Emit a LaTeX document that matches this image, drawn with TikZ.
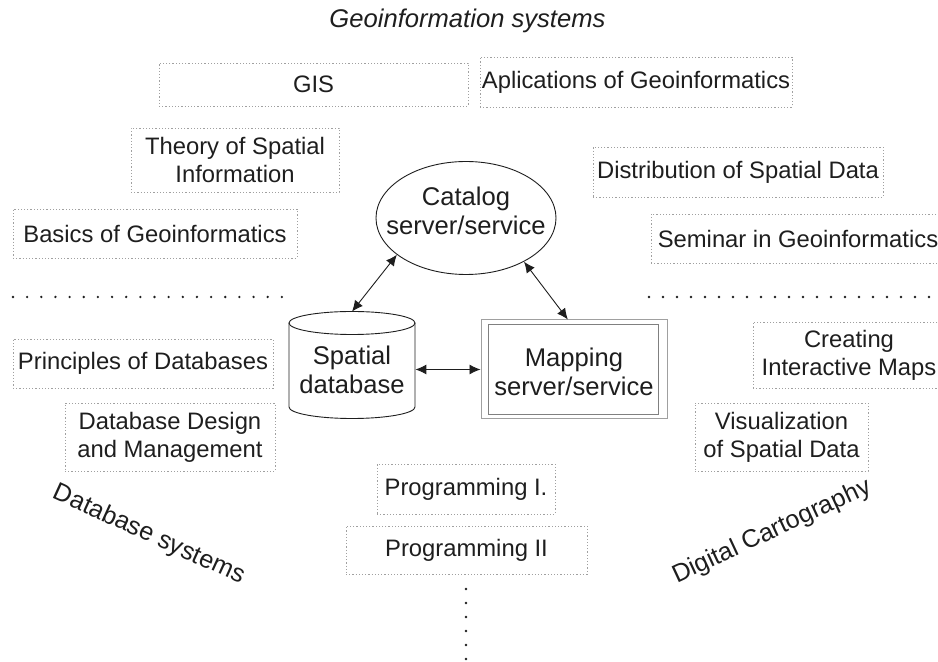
\documentclass[tikz,border=0pt]{standalone}
\usepackage{fontspec}
\setmainfont{Liberation Sans}
\usetikzlibrary{shapes.geometric,arrows.meta}
\definecolor{boxline}{RGB}{160,160,160}
\definecolor{ink}{RGB}{30,30,30}

\tikzset{
  course/.style={draw=boxline, dash pattern=on 0.6pt off 1pt, line width=0.45pt,
    align=center, inner sep=0pt, text=ink, font=\fontsize{11.9}{14}\selectfont},
  core/.style={align=center, inner sep=0pt, text=ink, font=\fontsize{12.8}{14.3}\selectfont},
  area/.style={text=ink, font=\fontsize{12.6}{15}\selectfont},
  link/.style={ink, line width=0.45pt, {Latex[length=5.5pt,width=5pt]}-{Latex[length=5.5pt,width=5pt]}},
}

\begin{document}
\begin{tikzpicture}[x=0.5pt,y=-0.5pt]
  \useasboundingbox (0,0) rectangle (938,662);
  \node[area, font=\itshape\fontsize{12.8}{15}\selectfont] (title) at (467.5,21) {Geoinformation systems};
  % courses, upper half
  \node[course, minimum width=154.5pt, minimum height=21.5pt] (gis) at (313.5,84.5) {GIS};
  \node[course, minimum width=156pt, minimum height=25pt] (apl) at (636,82) {Aplications of Geoinformatics};
  \node[course, minimum width=104pt, minimum height=32pt] (theory) at (235,160) {Theory of Spatial\\Information};
  \node[course, minimum width=142pt, minimum height=24.5pt] (basics) at (155,233.5) {Basics of Geoinformatics};
  \node[course, minimum width=145pt, minimum height=25pt] (distr) at (738,172) {Distribution of Spatial Data};
  \node[course, minimum width=147pt, minimum height=24.5pt] (seminar) at (798,238.5) {Seminar in Geoinformatics};
  % courses, lower half
  \node[course, minimum width=130pt, minimum height=24.5pt] (princ) at (143,363.5) {Principles of Databases};
  \node[course, minimum width=105pt, minimum height=34pt] (dbdesign) at (170,437) {Database Design\\and Management};
  \node[course, minimum width=96pt, minimum height=33pt] (creating) at (849,355) {Creating\\Interactive Maps};
  \node[course, minimum width=86.5pt, minimum height=34pt] (visual) at (781.5,437) {Visualization\\of Spatial Data};
  \node[course, minimum width=89pt, minimum height=25pt] (prog1) at (466,489) {Programming I.};
  \node[course, minimum width=120.5pt, minimum height=24pt] (prog2) at (466.5,550) {Programming II};
  % separators
  \foreach \i in {0,...,19} \fill[ink] (13+\i*14.15,297) circle (1.3);
  \foreach \i in {0,...,20} \fill[ink] (649+\i*14,297) circle (1.3);
  \foreach \j in {0,...,5} \fill[ink] (466,589+\j*14) circle (1.3);
  % catalog
  \node[ellipse, draw=ink, line width=0.45pt, inner sep=0pt, minimum width=90pt, minimum height=56.5pt] (catalog) at (466,218) {};
  \node[core] (catalogtext) at (466,211) {Catalog\\server/service};
  % spatial database
  \node[inner sep=0pt, minimum width=63pt, minimum height=53pt] (db) at (352,365) {};
  \draw[ink, line width=0.45pt] (289,323) -- (289,407) arc[start angle=180, end angle=0, x radius=63, y radius=11.5] -- (415,323);
  \draw[ink, line width=0.45pt] (352,323) ellipse [x radius=63, y radius=11.5];
  \node[core] (dbtext) at (352,370) {Spatial\\database};
  % mapping
  \node[draw=boxline, line width=0.5pt, inner sep=0pt, minimum width=93pt, minimum height=49.5pt] (map) at (574,369.5) {};
  \draw[boxline!80!black, line width=0.5pt] ([shift={(8,5)}]map.north west) rectangle ([shift={(-9,-5)}]map.south east);
  \node[core] (maptext) at (574,372) {Mapping\\server/service};
  % links
  \draw[link] (catalog.208.5) -- (db.north);
  \draw[link] (catalog.323) -- (map.97);
  \draw[link] (db.east |- map.west) -- (map.west);
  % fields
  \node[area, rotate=-24.5] (dbsys) at (149,535) {Database systems};
  \node[area, rotate=25] (digcarto) at (772,532) {Digital Cartography};
\end{tikzpicture}
\end{document}
